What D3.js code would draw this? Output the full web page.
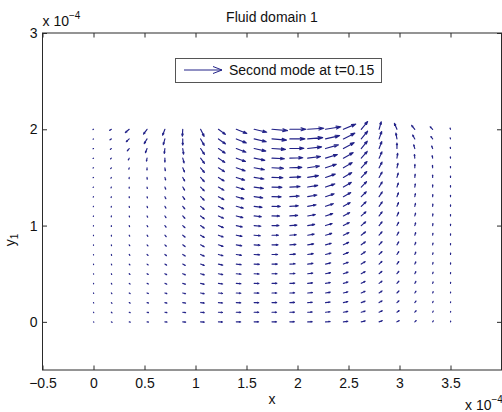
<!DOCTYPE html>
<html>
<head>
<meta charset="utf-8">
<script src="https://cdn.jsdelivr.net/npm/d3@7"></script>
<style>
  html, body { margin: 0; padding: 0; background: #fff; }
  svg { display: block; font-family: "Liberation Sans", Arial, Helvetica, sans-serif; }
</style>
</head>
<body>
<svg id="chart" width="502" height="412"></svg>
<script>
// Grid of sample points (units of 1e-4)
const xGrid = [0, 0.175, 0.35, 0.525, 0.7, 0.875, 1.05, 1.225, 1.4, 1.575, 1.75,
               1.925, 2.1, 2.275, 2.45, 2.625, 2.8, 2.975, 3.15, 3.325, 3.5];
const yGrid = [2.0, 1.9, 1.8, 1.7, 1.6, 1.5, 1.4, 1.3, 1.2, 1.1, 1.0,
               0.9, 0.8, 0.7, 0.6, 0.5, 0.4, 0.3, 0.2, 0.1, 0.0];

// Velocity magnitude at each grid point (rows follow yGrid, columns follow xGrid)
const speed = [
  [0.6, 2.0, 5.0, 6.0, 6.5, 7.0, 8.0, 8.5, 11.0, 12.5, 15.0, 15.5, 15.5, 15.0, 13.0, 10.0, 8.0, 6.5, 5.0, 3.5, 1.2],
  [0.5, 1.6, 4.0, 5.5, 6.0, 6.3, 7.5, 8.5, 10.5, 12.0, 14.0, 14.5, 14.5, 14.0, 12.5, 10.0, 8.0, 6.0, 4.5, 3.0, 1.2],
  [0.5, 1.3, 3.0, 4.5, 5.0, 5.8, 7.0, 8.0, 10.0, 11.5, 13.0, 13.5, 13.5, 13.0, 12.0, 9.5, 7.5, 5.5, 4.0, 2.8, 1.2],
  [0.5, 1.1, 2.0, 3.0, 4.0, 5.0, 6.5, 7.5, 9.5, 10.5, 12.0, 12.5, 12.5, 12.0, 11.0, 9.0, 7.0, 5.0, 3.8, 2.6, 1.3],
  [0.5, 1.0, 1.5, 2.2, 3.0, 4.5, 6.0, 7.0, 9.0, 10.0, 11.0, 11.5, 11.5, 11.0, 10.0, 8.5, 6.5, 4.7, 3.5, 2.5, 1.3],
  [0.5, 0.9, 1.2, 1.8, 2.6, 4.0, 5.5, 6.5, 8.5, 9.5, 10.5, 10.5, 10.5, 10.0, 9.5, 8.0, 6.2, 4.5, 3.3, 2.4, 1.4],
  [0.5, 0.9, 1.1, 1.5, 2.3, 3.6, 5.2, 6.2, 8.0, 9.0, 9.5, 9.8, 9.8, 9.5, 9.0, 7.5, 6.0, 4.3, 3.2, 2.3, 1.4],
  [0.5, 0.9, 1.1, 1.4, 2.2, 3.4, 5.0, 6.0, 7.5, 8.3, 8.8, 9.0, 9.0, 8.8, 8.3, 7.0, 5.7, 4.2, 3.1, 2.2, 1.4],
  [0.5, 0.9, 1.1, 1.4, 2.1, 3.3, 4.8, 5.7, 7.0, 7.6, 8.0, 8.2, 8.2, 8.0, 7.6, 6.6, 5.4, 4.0, 3.0, 2.2, 1.4],
  [0.5, 0.9, 1.1, 1.4, 2.0, 3.2, 4.6, 5.4, 6.5, 7.0, 7.3, 7.5, 7.5, 7.3, 7.0, 6.2, 5.1, 3.9, 2.9, 2.1, 1.4],
  [0.5, 0.9, 1.1, 1.4, 2.0, 3.1, 4.4, 5.1, 6.0, 6.5, 6.7, 6.8, 6.8, 6.7, 6.5, 5.8, 4.8, 3.7, 2.8, 2.1, 1.4],
  [0.5, 0.9, 1.1, 1.4, 2.0, 3.0, 4.2, 4.9, 5.6, 6.0, 6.2, 6.3, 6.3, 6.2, 6.0, 5.4, 4.5, 3.6, 2.7, 2.0, 1.4],
  [0.5, 0.9, 1.1, 1.4, 2.0, 2.9, 4.0, 4.7, 5.3, 5.6, 5.8, 5.8, 5.8, 5.7, 5.6, 5.1, 4.3, 3.4, 2.6, 1.9, 1.3],
  [0.5, 0.9, 1.1, 1.4, 2.0, 2.9, 3.9, 4.5, 5.0, 5.3, 5.4, 5.4, 5.4, 5.4, 5.2, 4.8, 4.1, 3.3, 2.5, 1.8, 1.3],
  [0.5, 0.9, 1.1, 1.4, 2.0, 2.8, 3.8, 4.3, 4.8, 5.0, 5.1, 5.1, 5.1, 5.1, 5.0, 4.6, 3.9, 3.1, 2.4, 1.7, 1.2],
  [0.5, 0.9, 1.1, 1.4, 2.0, 2.8, 3.7, 4.2, 4.6, 4.8, 4.9, 4.9, 4.9, 4.9, 4.8, 4.4, 3.7, 3.0, 2.3, 1.6, 1.1],
  [0.5, 0.9, 1.1, 1.4, 2.0, 2.8, 3.6, 4.1, 4.5, 4.6, 4.7, 4.7, 4.7, 4.7, 4.6, 4.2, 3.6, 2.9, 2.2, 1.5, 1.0],
  [0.5, 0.9, 1.1, 1.4, 2.0, 2.8, 3.6, 4.0, 4.4, 4.5, 4.6, 4.6, 4.6, 4.6, 4.5, 4.1, 3.5, 2.8, 2.1, 1.4, 0.9],
  [0.5, 0.9, 1.1, 1.4, 2.0, 2.8, 3.5, 4.0, 4.3, 4.4, 4.5, 4.5, 4.5, 4.5, 4.4, 4.0, 3.4, 2.7, 2.0, 1.3, 0.8],
  [0.5, 0.9, 1.1, 1.4, 2.0, 2.8, 3.5, 3.9, 4.2, 4.4, 4.4, 4.4, 4.4, 4.4, 4.3, 4.0, 3.4, 2.7, 2.0, 1.3, 0.8],
  [0.5, 0.9, 1.1, 1.4, 2.0, 2.8, 3.5, 3.9, 4.2, 4.3, 4.4, 4.4, 4.4, 4.4, 4.3, 3.9, 3.3, 2.6, 1.9, 1.2, 0.7]
];

// Flow direction at each grid point, degrees counter-clockwise from +x
const direction = [
  [-150, -145, -138, -125, -110, -93, -65, -38, -23, -14, -5, 0, 4, 10, 24, 52, 75, 112, 128, 133, 110],
  [-150, -145, -135, -120, -105, -90, -62, -37, -23, -14, -5, 0, 5, 14, 28, 52, 72, 100, 118, 125, 105],
  [-150, -140, -128, -110, -97, -82, -58, -36, -22, -13, -4, 1, 7, 17, 30, 52, 70, 90, 105, 110, 100],
  [-150, -135, -115, -100, -90, -75, -55, -35, -21, -12, -3, 2, 8, 18, 31, 50, 67, 82, 95, 100, 95],
  [-150, -130, -105, -92, -82, -68, -52, -34, -20, -11, -3, 2, 9, 19, 32, 49, 64, 78, 88, 94, 92],
  [-150, -120, -95, -85, -75, -63, -50, -33, -19, -10, -2, 3, 10, 20, 32, 48, 62, 74, 84, 90, 90],
  [-140, -110, -90, -80, -70, -60, -48, -32, -18, -9, -2, 3, 10, 20, 32, 47, 60, 72, 82, 88, 90],
  [-130, -105, -85, -75, -66, -56, -46, -30, -17, -8, -1, 4, 11, 20, 31, 46, 58, 70, 80, 86, 89],
  [-120, -100, -80, -70, -62, -53, -43, -28, -16, -8, -1, 4, 11, 20, 31, 45, 56, 68, 78, 85, 88],
  [-110, -95, -75, -65, -58, -50, -40, -26, -15, -7, -1, 4, 11, 19, 30, 43, 55, 66, 76, 84, 88],
  [-100, -90, -70, -60, -54, -46, -37, -24, -14, -6, 0, 4, 10, 18, 29, 42, 53, 64, 74, 83, 88],
  [-95, -85, -65, -55, -50, -42, -33, -22, -12, -5, 0, 4, 10, 17, 27, 40, 51, 62, 72, 82, 87],
  [-90, -80, -60, -50, -45, -38, -30, -20, -11, -5, 0, 4, 9, 16, 26, 38, 49, 60, 70, 80, 87],
  [-85, -75, -55, -45, -40, -34, -26, -17, -10, -4, 0, 4, 9, 15, 24, 36, 47, 58, 68, 79, 86],
  [-80, -70, -50, -40, -35, -30, -22, -15, -8, -3, 0, 3, 8, 14, 22, 34, 45, 56, 66, 77, 85],
  [-75, -65, -45, -35, -30, -25, -18, -12, -7, -3, 0, 3, 7, 13, 20, 31, 42, 53, 64, 75, 84],
  [-70, -60, -40, -30, -25, -20, -15, -10, -5, -2, 0, 3, 6, 11, 18, 28, 39, 50, 61, 73, 83],
  [-65, -55, -35, -25, -20, -16, -12, -8, -4, -2, 0, 2, 5, 10, 16, 25, 36, 47, 58, 70, 82],
  [-60, -50, -30, -20, -16, -12, -9, -6, -3, -1, 0, 2, 4, 8, 14, 22, 32, 43, 55, 68, 80],
  [-55, -45, -25, -15, -12, -9, -6, -4, -2, -1, 0, 1, 3, 6, 11, 18, 27, 38, 50, 64, 78],
  [-50, -40, -20, -10, -8, -6, -4, -2, -1, 0, 0, 1, 2, 4, 8, 14, 22, 32, 44, 58, 75]
];

const xTicks = [-0.5, 0, 0.5, 1, 1.5, 2, 2.5, 3, 3.5, 4];
const xTickLabels = ["\u22120.5", "0", "0.5", "1", "1.5", "2", "2.5", "3", "3.5", ""];
const yTicks = [0, 1, 2, 3];
const yTickLabels = ["0", "1", "2", "3"];

const titleText = "Fluid domain 1";
const legendText = "Second mode at t=0.15";

(function draw() {
  const svg = d3.select("#chart");
  const pl = 42.5, pr = 501.5, pt = 33, pb = 370;
  const x = d3.scaleLinear().domain([-0.5, 4]).range([pl, pr]);
  const y = d3.scaleLinear().domain([-0.5, 3]).range([pb, pt]);

  const axisColor = "#2a2a2a";
  const textColor = "#111";
  const arrowColor = "#222288";
  const fontSize = 14;

  svg.append("rect").attr("width", 502).attr("height", 412).attr("fill", "#fff");

  // quiver arrows, autoscaled to the grid spacing
  const dx = xGrid[1] - xGrid[0];
  const dy = yGrid[0] - yGrid[1];
  const maxSpeed = d3.max(speed.flat());
  const arrowScale = 0.78 * Math.hypot(dx, dy) / maxSpeed;
  const headLen = 0.3, headWidth = 0.33;

  const arrows = [];
  yGrid.forEach((yy, r) => {
    xGrid.forEach((xx, c) => {
      const a = direction[r][c] * Math.PI / 180;
      const u = speed[r][c] * Math.cos(a) * arrowScale;
      const v = speed[r][c] * Math.sin(a) * arrowScale;
      arrows.push({ xx, yy, u, v });
    });
  });

  function arrowPath(d) {
    const x1 = d.xx + d.u, y1 = d.yy + d.v;
    const h1x = x1 - headLen * (d.u + headWidth * d.v);
    const h1y = y1 - headLen * (d.v - headWidth * d.u);
    const h2x = x1 - headLen * (d.u - headWidth * d.v);
    const h2y = y1 - headLen * (d.v + headWidth * d.u);
    const p = d3.path();
    p.moveTo(x(d.xx), y(d.yy));
    p.lineTo(x(x1), y(y1));
    p.moveTo(x(h1x), y(h1y));
    p.lineTo(x(x1), y(y1));
    p.lineTo(x(h2x), y(h2y));
    return p.toString();
  }

  svg.append("g")
    .selectAll("path")
    .data(arrows)
    .join("path")
    .attr("d", arrowPath)
    .attr("fill", "none")
    .attr("stroke", arrowColor)
    .attr("stroke-width", 1.15)
    .attr("stroke-linecap", "round")
    .attr("stroke-linejoin", "round");

  // axes with inward ticks on all four sides
  function styleAxis(g) {
    g.select(".domain").remove();
    g.selectAll(".tick line").attr("stroke", axisColor);
    g.selectAll(".tick text")
      .attr("fill", textColor)
      .attr("font-size", fontSize)
      .attr("font-family", "Liberation Sans, Arial, Helvetica, sans-serif");
  }

  svg.append("g")
    .attr("transform", `translate(0,${pb})`)
    .call(d3.axisBottom(x).tickValues(xTicks).tickSize(-4.5).tickPadding(8)
          .tickFormat((d, i) => xTickLabels[i]))
    .call(styleAxis);

  svg.append("g")
    .attr("transform", `translate(0,${pt})`)
    .call(d3.axisTop(x).tickValues(xTicks).tickSize(-4.5).tickFormat(""))
    .call(styleAxis);

  svg.append("g")
    .attr("transform", `translate(${pl},0)`)
    .call(d3.axisLeft(y).tickValues(yTicks).tickSize(-4.5).tickPadding(5)
          .tickFormat((d, i) => yTickLabels[i]))
    .call(styleAxis);

  svg.append("g")
    .attr("transform", `translate(${pr},0)`)
    .call(d3.axisRight(y).tickValues(yTicks).tickSize(-4.5).tickFormat(""))
    .call(styleAxis);

  svg.append("rect")
    .attr("x", pl).attr("y", pt)
    .attr("width", pr - pl).attr("height", pb - pt)
    .attr("fill", "none").attr("stroke", axisColor).attr("stroke-width", 1);

  // titles and labels
  const txt = (xp, yp, s) =>
    svg.append("text").attr("x", xp).attr("y", yp).attr("text-anchor", "middle")
      .attr("font-size", fontSize).attr("fill", textColor).text(s);

  txt((pl + pr) / 2, 22, titleText);
  txt((pl + pr) / 2, 404, "x");

  function exponent(xp, yp) {
    const t = svg.append("text").attr("x", xp).attr("y", yp)
      .attr("font-size", fontSize).attr("fill", textColor);
    t.append("tspan").text("x 10");
    t.append("tspan").attr("font-size", 10).attr("dy", -7).text("\u22124");
  }
  exponent(pl, 26);
  exponent(465, 410);

  const yl = svg.append("text")
    .attr("transform", "translate(15,240) rotate(-90)")
    .attr("text-anchor", "middle")
    .attr("font-size", fontSize).attr("fill", textColor);
  yl.append("tspan").text("y");
  yl.append("tspan").attr("font-size", 10).attr("dy", 3).text("1");

  // legend
  const lg = svg.append("g");
  lg.append("rect").attr("x", 175.5).attr("y", 58.5).attr("width", 206).attr("height", 24)
    .attr("fill", "#fff").attr("stroke", "#555").attr("stroke-width", 1);
  lg.append("line").attr("x1", 184).attr("x2", 222).attr("y1", 70).attr("y2", 70)
    .attr("stroke", arrowColor).attr("stroke-width", 1);
  lg.append("path").attr("d", "M213,66.5L222,70L213,73.5")
    .attr("fill", "none").attr("stroke", arrowColor).attr("stroke-width", 1);
  lg.append("text").attr("x", 229).attr("y", 75).attr("font-size", fontSize)
    .attr("fill", textColor).text(legendText);
})();
</script>
</body>
</html>
